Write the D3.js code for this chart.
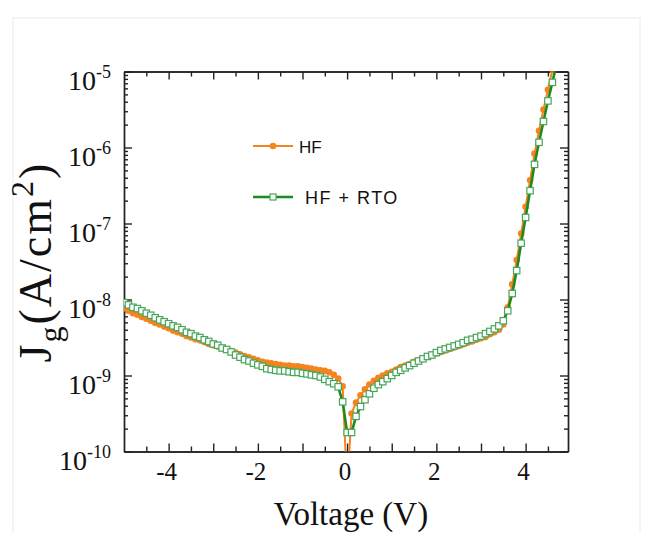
<!DOCTYPE html>
<html>
<head>
<meta charset="utf-8">
<title>Gate leakage current density</title>
<script src="https://cdn.jsdelivr.net/npm/d3@7"></script>
<style>
  body { margin: 0; background: #fff; }
  svg { display: block; }
  .serif { font-family: "Liberation Serif", "Times New Roman", serif; fill: #111; }
  .legend { font-family: "Liberation Sans", Arial, sans-serif; font-size: 17px; fill: #111; }
  .axis path, .axis line { stroke: #222; stroke-width: 1.4; }
</style>
</head>
<body>
<svg id="chart" width="645" height="533"></svg>
<script>
  // gate voltage (V), one sweep for both samples
  const voltage = [-5.0, -4.9, -4.8, -4.7, -4.6, -4.5, -4.4, -4.3, -4.2, -4.1,
    -4.0, -3.9, -3.8, -3.7, -3.6, -3.5, -3.4, -3.3, -3.2, -3.1,
    -3.0, -2.9, -2.8, -2.7, -2.6, -2.5, -2.4, -2.3, -2.2, -2.1,
    -2.0, -1.9, -1.8, -1.7, -1.6, -1.5, -1.4, -1.3, -1.2, -1.1,
    -1.0, -0.9, -0.8, -0.7, -0.6, -0.5, -0.4, -0.3, -0.2, -0.1,
    0.0, 0.1, 0.2, 0.3, 0.4, 0.5, 0.6, 0.7, 0.8, 0.9,
    1.0, 1.1, 1.2, 1.3, 1.4, 1.5, 1.6, 1.7, 1.8, 1.9,
    2.0, 2.1, 2.2, 2.3, 2.4, 2.5, 2.6, 2.7, 2.8, 2.9,
    3.0, 3.1, 3.2, 3.3, 3.4, 3.5, 3.6, 3.7, 3.8, 3.9,
    4.0, 4.1, 4.2, 4.3, 4.4, 4.5, 4.6, 4.7];
  // Jg (A/cm2), HF
  const jHF = [7.6e-9, 7.1e-9, 6.6e-9, 6.3e-9, 5.9e-9, 5.6e-9, 5.25e-9, 4.9e-9, 4.7e-9, 4.4e-9,
    4.2e-9, 3.9e-9, 3.7e-9, 3.55e-9, 3.3e-9, 3.16e-9, 3.0e-9, 2.9e-9, 2.75e-9, 2.6e-9,
    2.5e-9, 2.4e-9, 2.3e-9, 2.2e-9, 2.1e-9, 2.0e-9, 1.9e-9, 1.8e-9, 1.74e-9, 1.66e-9,
    1.58e-9, 1.51e-9, 1.48e-9, 1.45e-9, 1.41e-9, 1.38e-9, 1.35e-9, 1.35e-9, 1.32e-9, 1.32e-9,
    1.29e-9, 1.26e-9, 1.23e-9, 1.2e-9, 1.17e-9, 1.15e-9, 1.1e-9, 1.02e-9, 9.1e-10, 7.2e-10,
    3.2e-11, 3.16e-10, 4.4e-10, 5.5e-10, 6.6e-10, 7.6e-10, 8.5e-10, 9.3e-10, 1.0e-9, 1.07e-9,
    1.12e-9, 1.2e-9, 1.29e-9, 1.35e-9, 1.41e-9, 1.51e-9, 1.58e-9, 1.66e-9, 1.78e-9, 1.86e-9,
    1.95e-9, 2.04e-9, 2.14e-9, 2.24e-9, 2.34e-9, 2.45e-9, 2.57e-9, 2.7e-9, 2.8e-9, 2.95e-9,
    3.1e-9, 3.2e-9, 3.5e-9, 3.7e-9, 4.0e-9, 4.7e-9, 7.9e-9, 1.58e-8, 3.3e-8, 7.4e-8,
    1.66e-7, 3.7e-7, 8.3e-7, 1.66e-6, 3.16e-6, 5.75e-6, 1.05e-5, 1.9e-5];
  // Jg (A/cm2), HF + RTO
  const jHFRTO = [9.1e-9, 8.5e-9, 7.9e-9, 7.6e-9, 7.1e-9, 6.6e-9, 6.2e-9, 5.75e-9, 5.4e-9, 5.1e-9,
    4.8e-9, 4.5e-9, 4.3e-9, 4.0e-9, 3.7e-9, 3.55e-9, 3.3e-9, 3.16e-9, 2.95e-9, 2.8e-9,
    2.6e-9, 2.5e-9, 2.3e-9, 2.2e-9, 2.04e-9, 1.86e-9, 1.74e-9, 1.62e-9, 1.55e-9, 1.45e-9,
    1.38e-9, 1.32e-9, 1.23e-9, 1.2e-9, 1.17e-9, 1.15e-9, 1.15e-9, 1.12e-9, 1.1e-9, 1.1e-9,
    1.07e-9, 1.05e-9, 1.02e-9, 1.0e-9, 9.55e-10, 8.9e-10, 8.3e-10, 7.8e-10, 7.1e-10, 4.5e-10,
    1.78e-10, 1.78e-10, 2.9e-10, 3.9e-10, 4.8e-10, 5.75e-10, 6.8e-10, 7.6e-10, 8.3e-10, 9.1e-10,
    1.0e-9, 1.1e-9, 1.17e-9, 1.26e-9, 1.35e-9, 1.45e-9, 1.55e-9, 1.66e-9, 1.78e-9, 1.86e-9,
    2.0e-9, 2.14e-9, 2.24e-9, 2.34e-9, 2.45e-9, 2.57e-9, 2.7e-9, 2.9e-9, 3.0e-9, 3.16e-9,
    3.3e-9, 3.55e-9, 3.8e-9, 4.1e-9, 4.5e-9, 5.25e-9, 7.1e-9, 1.2e-8, 2.4e-8, 5.5e-8,
    1.2e-7, 2.7e-7, 6.0e-7, 1.17e-6, 2.2e-6, 4.1e-6, 7.2e-6, 1.3e-5];
  const seriesNames = ["HF", "HF + RTO"];
  const xLabelTicks = [-4, -2, 0, 2, 4];
  const xMajorTicks = [-4, -3, -2, -1, 0, 1, 2, 3, 4];
  const xMinorTicks = [-4.5, -3.5, -2.5, -1.5, -0.5, 0.5, 1.5, 2.5, 3.5, 4.5];
  const yDecades = [1e-10, 1e-9, 1e-8, 1e-7, 1e-6, 1e-5];
  const yExponents = ["-10", "-9", "-8", "-7", "-6", "-5"];

  const orange = "#f5841f";
  const green = "#1f8a1f";
  const squareStroke = "#45a55a";

  const svg = d3.select("#chart");
  const plotLeft = 124, plotRight = 568, plotTop = 71.5, plotBottom = 451.5;

  const x = d3.scaleLinear().domain([-5, 4.95]).range([plotLeft, plotRight]);
  const y = d3.scaleLog().domain([1e-10, 1e-5]).range([plotBottom, plotTop]);

  // faint outer frame of the original figure
  svg.append("rect")
    .attr("x", 13).attr("y", 18).attr("width", 627).attr("height", 530)
    .attr("fill", "none").attr("stroke", "#ececec");

  // minor log ticks
  const yMinor = [];
  yDecades.slice(0, -1).forEach(function(d) {
    for (let k = 2; k < 10; k++) yMinor.push(d * k);
  });

  // axes: ticks point into the plot on all four sides
  function drawAxis(axis, tx, ty) {
    svg.append("g").attr("class", "axis")
      .attr("transform", "translate(" + tx + "," + ty + ")")
      .call(axis.tickSizeOuter(0).tickFormat(""))
      .call(function(g) { g.selectAll("text").remove(); });
  }
  drawAxis(d3.axisBottom(x).tickValues(xMajorTicks).tickSizeInner(-8), 0, plotBottom);
  drawAxis(d3.axisBottom(x).tickValues(xMinorTicks).tickSizeInner(-5), 0, plotBottom);
  drawAxis(d3.axisTop(x).tickValues(xMajorTicks).tickSizeInner(-8), 0, plotTop);
  drawAxis(d3.axisTop(x).tickValues(xMinorTicks).tickSizeInner(-5), 0, plotTop);
  drawAxis(d3.axisLeft(y).tickValues(yDecades).tickSizeInner(-8), plotLeft, 0);
  drawAxis(d3.axisLeft(y).tickValues(yMinor).tickSizeInner(-4), plotLeft, 0);
  drawAxis(d3.axisRight(y).tickValues(yDecades).tickSizeInner(-8), plotRight, 0);
  drawAxis(d3.axisRight(y).tickValues(yMinor).tickSizeInner(-4), plotRight, 0);

  // tick labels
  svg.selectAll(".xlab")
    .data(xLabelTicks)
    .enter().append("text")
      .attr("class", "serif")
      .attr("x", function(d) { return x(d) - 2; })
      .attr("y", 480)
      .attr("text-anchor", "middle")
      .style("font-size", "25px")
      .text(function(d) { return d; });

  const ylab = svg.selectAll(".ylab")
    .data(yDecades)
    .enter().append("text")
      .attr("class", "serif")
      .attr("x", 111)
      .attr("y", function(d) { return y(d) + 18; })
      .attr("text-anchor", "end")
      .style("font-size", "28px");
  ylab.append("tspan").text("10");
  ylab.append("tspan")
    .attr("dy", -12)
    .style("font-size", "18px")
    .text(function(d, i) { return yExponents[i]; });

  // axis titles
  svg.append("text")
    .attr("class", "serif")
    .attr("x", 351).attr("y", 525)
    .attr("text-anchor", "middle")
    .style("font-size", "33px")
    .text("Voltage (V)");

  const yt = svg.append("text")
    .attr("class", "serif")
    .attr("transform", "translate(51,262) rotate(-90)")
    .attr("text-anchor", "middle")
    .style("font-size", "46px")
    .style("letter-spacing", "2px");
  yt.append("tspan").text("J");
  yt.append("tspan").attr("dy", 10).style("font-size", "32px").text("g");
  yt.append("tspan").attr("dy", -10).text("(A/cm");
  yt.append("tspan").attr("dy", -18).style("font-size", "32px").text("2");
  yt.append("tspan").attr("dy", 18).text(")");

  // data, clipped to the frame
  svg.append("clipPath").attr("id", "plotClip")
    .append("rect")
      .attr("x", plotLeft).attr("y", plotTop)
      .attr("width", plotRight - plotLeft).attr("height", plotBottom - plotTop);
  const plot = svg.append("g").attr("clip-path", "url(#plotClip)");

  const hf = voltage.map(function(v, i) { return { v: v, j: jHF[i] }; });
  const rto = voltage.map(function(v, i) { return { v: v, j: jHFRTO[i] }; });
  const line = d3.line()
    .x(function(d) { return x(d.v); })
    .y(function(d) { return y(Math.max(d.j, 1e-11)); });

  plot.append("path")
    .datum(hf)
    .attr("d", line)
    .attr("fill", "none")
    .attr("stroke", orange)
    .attr("stroke-width", 2);
  plot.selectAll(".hf")
    .data(hf)
    .enter().append("circle")
      .attr("cx", function(d) { return x(d.v); })
      .attr("cy", function(d) { return y(d.j); })
      .attr("r", 3.3)
      .attr("fill", orange);

  plot.append("path")
    .datum(rto)
    .attr("d", line)
    .attr("fill", "none")
    .attr("stroke", green)
    .attr("stroke-width", 2.6);
  plot.selectAll(".rto")
    .data(rto)
    .enter().append("rect")
      .attr("x", function(d) { return x(d.v) - 3.2; })
      .attr("y", function(d) { return y(d.j) - 3.2; })
      .attr("width", 6.4).attr("height", 6.4)
      .attr("fill", "#fff")
      .attr("stroke", squareStroke)
      .attr("stroke-width", 1.2);

  // legend
  const legend = svg.append("g");
  legend.append("line")
    .attr("x1", 253).attr("x2", 293).attr("y1", 146).attr("y2", 146)
    .attr("stroke", orange).attr("stroke-width", 2);
  legend.append("circle")
    .attr("cx", 273).attr("cy", 146).attr("r", 3.3).attr("fill", orange);
  legend.append("text")
    .attr("class", "legend")
    .attr("x", 299).attr("y", 152.5)
    .text(seriesNames[0]);

  legend.append("line")
    .attr("x1", 253).attr("x2", 293).attr("y1", 197).attr("y2", 197)
    .attr("stroke", green).attr("stroke-width", 2.6);
  legend.append("rect")
    .attr("x", 270).attr("y", 194).attr("width", 6).attr("height", 6)
    .attr("fill", "#fff").attr("stroke", squareStroke).attr("stroke-width", 1.2);
  legend.append("text")
    .attr("class", "legend")
    .attr("x", 305).attr("y", 203.5)
    .style("font-size", "18px")
    .style("letter-spacing", "1.5px")
    .text(seriesNames[1]);
</script>
</body>
</html>
